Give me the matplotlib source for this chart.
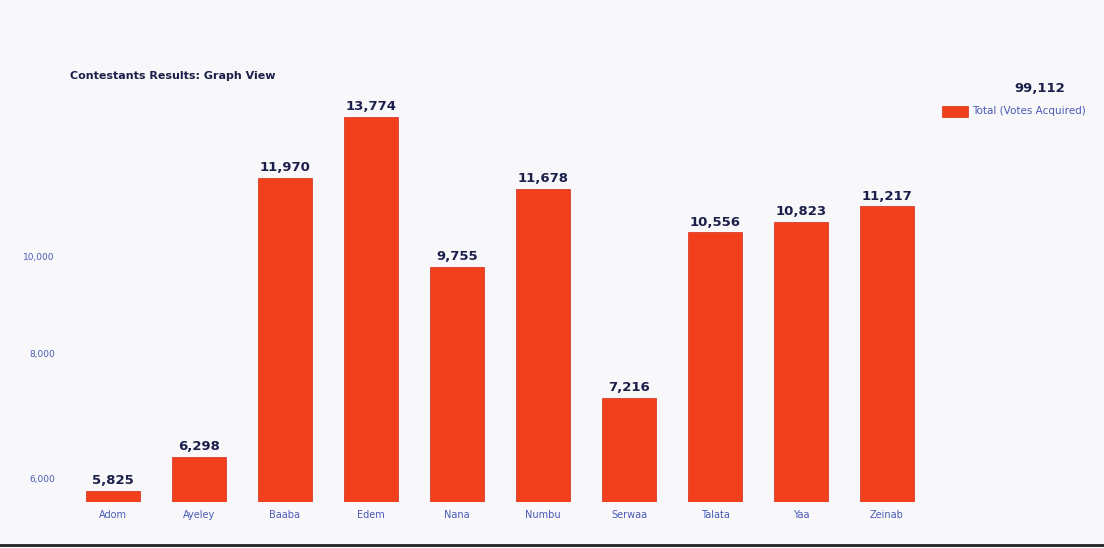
import matplotlib
matplotlib.use("Agg")
import matplotlib.pyplot as plt
from matplotlib.lines import Line2D
from matplotlib.patches import Rectangle
from matplotlib.ticker import FixedLocator, NullLocator

contestants = ["Adom", "Ayeley", "Baaba", "Edem", "Nana",
               "Numbu", "Serwaa", "Talata", "Yaa", "Zeinab"]
votes = [5825, 6298, 11970, 13774, 9755, 11678, 7216, 10556, 10823, 11217]
y_ticks = [6000, 8000, 10000]
y_tick_labels = ["6,000", "8,000", "10,000"]
title = "Contestants Results: Graph View"
legend_label = "Total (Votes Acquired)"
total_votes = sum(votes)

W, H = 1104, 548
bg = "#f8f8fa"
bar_color = "#f2401f"
navy = "#1b1f4a"
blue = "#4a5ab8"

fig = plt.figure(figsize=(W / 100, H / 100), dpi=100, facecolor=bg)

# axes placed in pixel terms: left 70, right 930, bottom 502, top 60
left, right, bottom, top = 70, 930, 502, 60
ax = fig.add_axes([left / W, 1 - bottom / H, (right - left) / W, (bottom - top) / H])
ax.set_facecolor(bg)

x = list(range(len(contestants)))
ax.set_yscale("log")
ax.set_ylim(5678, 15700)
ax.set_xlim(-0.5, len(contestants) - 0.5)

bars = ax.bar(x, votes, width=0.62, bottom=1, color=bar_color,
              edgecolor="#d8402a", linewidth=0.6, zorder=2)

for xi, v in zip(x, votes):
    ax.annotate(f"{v:,}", (xi, v), xytext=(0, 2.5), textcoords="offset points",
                ha="center", va="bottom", fontsize=9.5, fontweight="heavy",
                color=navy, family="DejaVu Sans")

ax.yaxis.set_major_locator(FixedLocator(y_ticks))
ax.yaxis.set_minor_locator(NullLocator())
ax.set_yticklabels(y_tick_labels)
ax.set_xticks(x)
ax.set_xticklabels(contestants)
ax.tick_params(axis="y", length=0, labelsize=6.5, labelcolor=blue, pad=11)
ax.tick_params(axis="x", length=0, labelsize=7, labelcolor=blue, pad=6)
for s in ax.spines.values():
    s.set_visible(False)

fig.text(70 / W, 1 - 76 / H, title, fontsize=8, fontweight="bold",
         color=navy, ha="left", va="center")

# legend block on the right
fig.text(1040 / W, 1 - 88 / H, f"{total_votes:,}", fontsize=9.5,
         fontweight="bold", color=navy, ha="center", va="center")
fig.add_artist(Rectangle((942 / W, 1 - 117 / H), 26 / W, 11 / H,
                         transform=fig.transFigure, facecolor=bar_color,
                         edgecolor="#d8402a", linewidth=0.6))
fig.text(972 / W, 1 - 111 / H, legend_label, fontsize=7.5,
         color=blue, ha="left", va="center")

# dark rule along the lower edge
fig.add_artist(Line2D([0.0, 1.0], [1 - 545 / H, 1 - 545 / H],
                      transform=fig.transFigure, color="#222222", linewidth=2))

fig.savefig("out.png", dpi=100, facecolor=bg)
